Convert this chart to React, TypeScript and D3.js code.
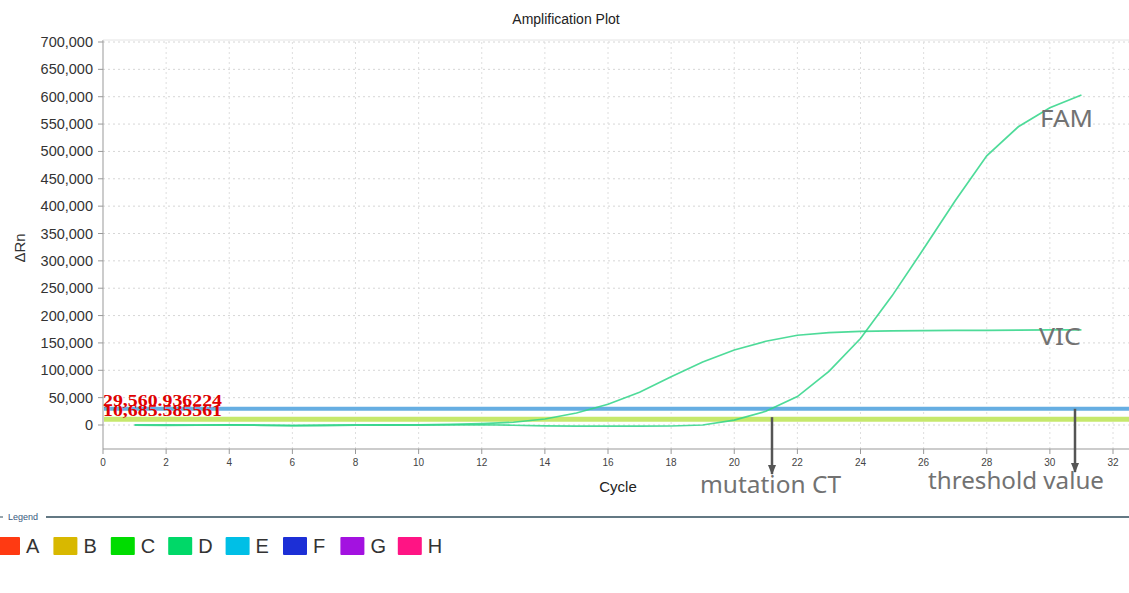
import React, { useEffect } from 'react';
import * as d3 from 'd3';

// chart values
const cycles = [1, 2, 3, 4, 5, 6, 7, 8, 9, 10, 11, 12, 13, 14, 15, 16, 17, 18, 19, 20, 21, 22, 23, 24, 25, 26, 27, 28, 29, 30, 31];
const famValues = [-500, -800, -300, 200, -600, -1500, -1200, -500, -400, -300, 0, 500, -500, -1500, -2000, -2000, -2000, -1800, 0, 9000, 25000, 52000, 98000, 158000, 236000, 322000, 410000, 492000, 545000, 580000, 603000];
const vicValues = [500, 300, 0, 500, 0, -500, 0, 500, 200, 500, 1000, 2500, 5000, 11000, 22000, 38000, 60000, 88000, 115000, 137000, 153000, 164000, 169000, 171000, 172000, 172500, 173000, 173000, 173500, 174000, 174000];
const thresholds = [29560.936224, 10685.585561];
const thresholdLabels = ['29,560.936224', '10,685.585561'];
const yTicks = [0, 50000, 100000, 150000, 200000, 250000, 300000, 350000, 400000, 450000, 500000, 550000, 600000, 650000, 700000];
const xTicks = [0, 2, 4, 6, 8, 10, 12, 14, 16, 18, 20, 22, 24, 26, 28, 30, 32];
const legendNames = ['A', 'B', 'C', 'D', 'E', 'F', 'G', 'H'];
const legendColors = ['#ff3a12', '#d8b800', '#00dc00', '#00d868', '#00bfe6', '#1c2fd6', '#a312e0', '#ff1484'];

const W = 1129;
const H = 593;
const left = 103;
const top = 42;
const bottom = 449;

const App = () => {
  useEffect(() => {
    document.body.style.margin = '0';
  }, []);

  const x = d3.scaleLinear().domain([0, 32]).range([left, 1113]);
  const y = d3.scaleLinear().domain([0, 700000]).range([425, top]);
  const right = W;

  const line = d3.line<number>()
    .x((d, i) => x(cycles[i]))
    .y(d => y(d));

  const fmt = d3.format(',');
  const threshColors = ['#66aee2', '#c6e86c'];
  const grey = '#727272';
  const noteFont = '"Noto Sans", "DejaVu Sans", sans-serif';

  return (
    <svg width={W} height={H} style={{ display: 'block', fontFamily: 'Arial, "Liberation Sans", sans-serif' }}>
      <defs>
        <marker id="arr" viewBox="0 0 10 10" refX="9" refY="5" markerWidth="4" markerHeight="6" orient="auto">
          <path d="M0,1 L10,5 L0,9 z" fill="#555" />
        </marker>
      </defs>
      <rect width={W} height={H} fill="#fff" />
      <text x={566} y={24} textAnchor="middle" fontSize={14} fill="#222">Amplification Plot</text>

      {/* grid */}
      {yTicks.map(t => (
        <line key={'gy' + t} x1={left} x2={right} y1={y(t)} y2={y(t)} stroke="#d6d6d6" strokeDasharray="2,3" />
      ))}
      {xTicks.slice(1).map(t => (
        <line key={'gx' + t} x1={x(t)} x2={x(t)} y1={top} y2={bottom} stroke="#dedede" strokeDasharray="2,3" />
      ))}

      {/* axes */}
      <line x1={left} x2={left} y1={top - 2} y2={bottom} stroke="#999" />
      <line x1={left} x2={right} y1={bottom} y2={bottom} stroke="#999" />
      <line x1={left} x2={right} y1={top - 2} y2={top - 2} stroke="#e4e4e4" />
      {yTicks.map(t => (
        <g key={'ty' + t}>
          <line x1={left - 5} x2={left} y1={y(t)} y2={y(t)} stroke="#999" />
          <text x={left - 10} y={y(t) + 5} textAnchor="end" fontSize={14.5} fill="#333">{fmt(t)}</text>
        </g>
      ))}
      {xTicks.map(t => (
        <g key={'tx' + t}>
          <line x1={x(t)} x2={x(t)} y1={bottom} y2={bottom + 5} stroke="#999" />
          <text x={x(t)} y={bottom + 17} textAnchor="middle" fontSize={10} fill="#444">{t}</text>
        </g>
      ))}
      <text transform={`translate(25,248) rotate(-90)`} textAnchor="middle" fontSize={15} fill="#333">ΔRn</text>
      <text x={618} y={492} textAnchor="middle" fontSize={15} fill="#222">Cycle</text>

      {/* thresholds */}
      {thresholds.map((t, i) => (
        <line key={'th' + i} x1={left + 1} x2={right} y1={y(t)} y2={y(t)} stroke={threshColors[i]} strokeWidth={i === 0 ? 4 : 5} />
      ))}

      {/* amplification curves */}
      <path d={line(vicValues) || ''} fill="none" stroke="#2fd587" strokeWidth={1.7} strokeOpacity={0.85} />
      <path d={line(famValues) || ''} fill="none" stroke="#2fd587" strokeWidth={1.7} strokeOpacity={0.85} />

      {thresholdLabels.map((s, i) => (
        <text key={'tl' + i} x={left} y={i === 0 ? 406 : 416} textLength={119} lengthAdjust="spacingAndGlyphs"
          fontFamily='"Liberation Serif", "Times New Roman", serif' fontWeight="bold" fontSize={17} fill="#e00000">{s}</text>
      ))}

      {/* annotations */}
      <text x={1040} y={127} fontSize={24} fontFamily={noteFont} textLength={53} lengthAdjust="spacingAndGlyphs" fill={grey}>FAM</text>
      <text x={1039} y={345} fontSize={24} fontFamily={noteFont} textLength={42} lengthAdjust="spacingAndGlyphs" fill={grey}>VIC</text>
      <line x1={772} x2={772} y1={y(thresholds[1]) - 2} y2={474} stroke="#555" strokeWidth={2.5} markerEnd="url(#arr)" />
      <text x={700} y={493} fontSize={24} fontFamily={noteFont} textLength={141} lengthAdjust="spacingAndGlyphs" fill={grey}>mutation CT</text>
      <line x1={1075} x2={1075} y1={y(thresholds[0])} y2={472} stroke="#555" strokeWidth={2.5} markerEnd="url(#arr)" />
      <text x={928} y={489} fontSize={24} fontFamily={noteFont} textLength={176} lengthAdjust="spacingAndGlyphs" fill={grey}>threshold value</text>

      {/* legend */}
      <line x1={0} x2={3} y1={517} y2={517} stroke="#2f4b5a" />
      <text x={8} y={520} fontSize={9} fill="#3a5a80">Legend</text>
      <line x1={46} x2={W} y1={517} y2={517} stroke="#2f4b5a" strokeWidth={1.5} />
      {legendNames.map((n, i) => (
        <g key={'lg' + n} transform={`translate(${-4 + i * 57.4},537)`}>
          <rect x={0} y={0} width={24} height={18} fill={legendColors[i]} rx={1} />
          <text x={30} y={16} fontSize={20} fill="#333">{n}</text>
        </g>
      ))}
    </svg>
  );
};

export default App;
